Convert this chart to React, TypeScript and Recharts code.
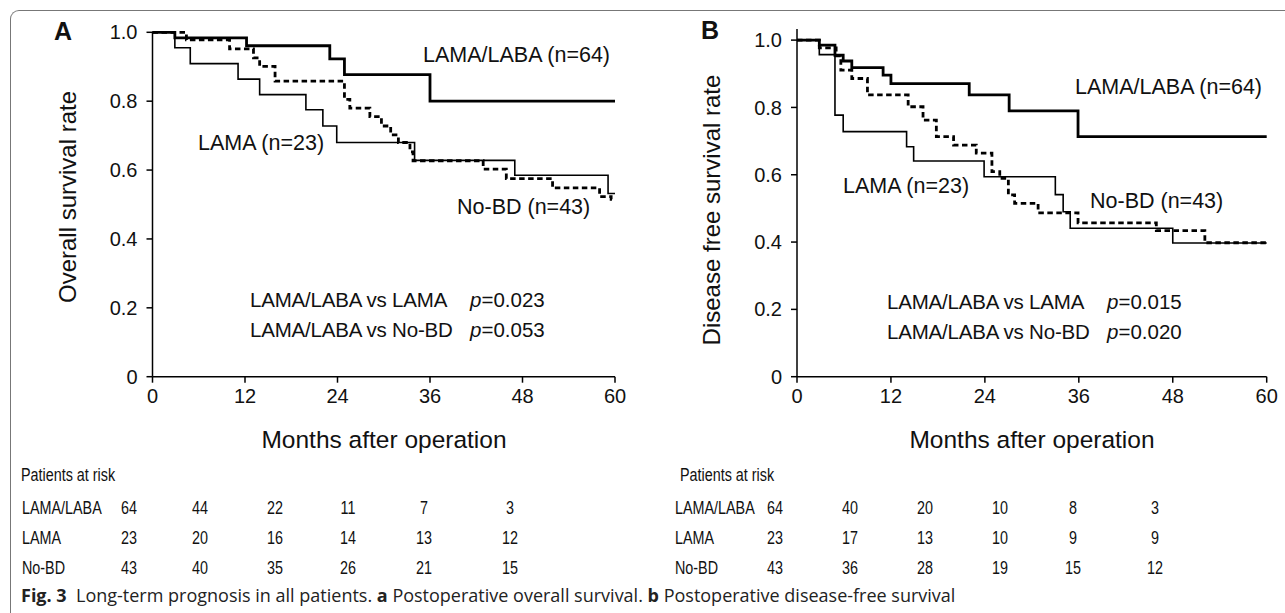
import { LineChart, Line, XAxis, YAxis } from 'recharts';

// survival curves: [month, rate]
const osLamaLaba = [[0, 1], [2.9, 0.984], [12.2, 0.961], [23.0, 0.923], [24.9, 0.877], [36, 0.8], [60, 0.8]];
const osLama = [[0, 1], [2.9, 0.955], [4.9, 0.909], [11.1, 0.864], [13.9, 0.819], [19.9, 0.775], [22.1, 0.728], [23.9, 0.68], [34.0, 0.628], [47.0, 0.585], [59.1, 0.532], [60, 0.532]];
const osNoBd = [[0, 1], [4.4, 0.978], [10.0, 0.952], [13.1, 0.926], [13.9, 0.901], [15.9, 0.858], [24.9, 0.805], [25.6, 0.78], [28.2, 0.755], [29.7, 0.728], [30.9, 0.702], [31.9, 0.68], [33.4, 0.653], [33.8, 0.627], [42.9, 0.603], [45.9, 0.575], [51.9, 0.548], [58.0, 0.523], [59.5, 0.515], [60, 0.515]];

const dfsLamaLaba = [[0, 1], [2.85, 0.985], [4.85, 0.955], [5.9, 0.938], [7.0, 0.918], [11.0, 0.896], [12.0, 0.871], [22.0, 0.837], [27.1, 0.79], [35.9, 0.713], [60, 0.713]];
const dfsLama = [[0, 1], [2.85, 0.957], [4.85, 0.777], [5.9, 0.728], [14.0, 0.683], [14.9, 0.641], [23.9, 0.594], [33.0, 0.541], [34.0, 0.49], [34.9, 0.441], [48.0, 0.397], [60, 0.397]];
const dfsNoBd = [[0, 1], [2.85, 0.977], [5.0, 0.953], [5.6, 0.911], [7.0, 0.886], [9.0, 0.837], [14.2, 0.802], [16.1, 0.762], [17.8, 0.713], [20.0, 0.688], [22.9, 0.664], [24.9, 0.609], [25.9, 0.589], [27.0, 0.54], [27.8, 0.515], [30.8, 0.487], [35.9, 0.457], [45.9, 0.434], [52.1, 0.398], [60, 0.398]];

const monthTicks = [0, 12, 24, 36, 48, 60];
const rateTicks = [0, 0.2, 0.4, 0.6, 0.8, 1.0];

// patients at risk
const groups = ['LAMA/LABA', 'LAMA', 'No-BD'];
const riskOs = [
  [64, 44, 22, 11, 7, 3],
  [23, 20, 16, 14, 13, 12],
  [43, 40, 35, 26, 21, 15],
];
const riskDfs = [
  [64, 40, 20, 10, 8, 3],
  [23, 17, 13, 10, 9, 9],
  [43, 36, 28, 19, 15, 12],
];

const pTextOs = ['0.023', '0.053'];
const pTextDfs = ['0.015', '0.020'];

const FONT = '"Liberation Sans", Arial, Helvetica, sans-serif';

const toRows = (pairs: number[][]) => pairs.map(([t, s]) => ({ t, s }));

const abs = (left: number, top: number, extra: any = {}): any => ({
  position: 'absolute',
  left,
  top,
  transform: 'translateY(-50%)',
  whiteSpace: 'nowrap',
  lineHeight: 1,
  fontFamily: FONT,
  color: '#111',
  ...extra,
});

function KMChart({ lamaLaba, lama, noBd, width, height, margin, yMax }: any) {
  const axisStyle = { stroke: '#000', strokeWidth: 1.5 };
  return (
    <LineChart width={width} height={height} margin={margin}>
      <XAxis
        type="number"
        dataKey="t"
        domain={[0, 60]}
        ticks={monthTicks}
        axisLine={axisStyle}
        tickLine={axisStyle}
        tickSize={6}
        tickMargin={6}
        height={40}
        tick={{ fill: '#111', fontSize: 20, fontFamily: FONT }}
      />
      <YAxis
        type="number"
        domain={[0, yMax]}
        ticks={rateTicks}
        width={60}
        axisLine={axisStyle}
        tickLine={axisStyle}
        tickSize={6}
        tickMargin={9}
        tickFormatter={(v: number) => (v === 0 ? '0' : v.toFixed(1))}
        tick={{ fill: '#111', fontSize: 20, fontFamily: FONT }}
      />
      <Line data={toRows(lamaLaba)} dataKey="s" type="stepAfter" stroke="#000" strokeWidth={2.8} dot={false} activeDot={false} isAnimationActive={false} />
      <Line data={toRows(lama)} dataKey="s" type="stepAfter" stroke="#000" strokeWidth={1.6} dot={false} activeDot={false} isAnimationActive={false} />
      <Line data={toRows(noBd)} dataKey="s" type="stepAfter" stroke="#000" strokeWidth={2.8} strokeDasharray="5.5 3.5" dot={false} activeDot={false} isAnimationActive={false} />
    </LineChart>
  );
}

// narrow-looking table text, like the figure
const tableText = (left: number, top: number, center = false) =>
  abs(left, top, {
    fontSize: 17.5,
    transform: center ? 'translate(-50%, -50%) scaleX(0.82)' : 'translateY(-50%) scaleX(0.82)',
    transformOrigin: center ? '50% 50%' : '0 50%',
  });

function RiskTable({ left, labelX, cols, values }: any) {
  return (
    <>
      <div style={tableText(left, 476)}>Patients at risk</div>
      {groups.map((g, r) => (
        <div key={g}>
          <div style={tableText(labelX, 509 + r * 30)}>{g}</div>
          {values[r].map((v: number, c: number) => (
            <div key={c} style={tableText(cols[c], 509 + r * 30, true)}>{v}</div>
          ))}
        </div>
      ))}
    </>
  );
}

function PText({ left, top, label, p }: any) {
  return (
    <>
      <div style={abs(left, top, { fontSize: 20.5, letterSpacing: -0.2 })}>{label}</div>
      <div style={abs(left + 220, top, { fontSize: 20.5 })}><i>p</i>={p}</div>
    </>
  );
}

export default function App() {
  return (
    <div style={{ position: 'absolute', left: 0, top: 0, width: 1285, height: 613, background: '#fff', overflow: 'hidden' }}>
      {/* figure frame */}
      <div style={{ position: 'absolute', left: 10, top: 10, width: 1300, height: 640, borderLeft: '1.5px solid #777', borderTop: '1.5px solid #777', borderTopLeftRadius: 9 }} />

      {/* panel A */}
      <div style={{ position: 'absolute', left: 0, top: 0 }}>
        <KMChart lamaLaba={osLamaLaba} lama={osLama} noBd={osNoBd} width={640} height={430}
          margin={{ top: 32.3, right: 25, bottom: 13.3, left: 92.5 }} yMax={1} />
      </div>
      <div style={abs(54, 31, { fontSize: 25, fontWeight: 'bold' })}>A</div>
      <div style={abs(68, 197, { fontSize: 24, transform: 'translate(-50%, -50%) rotate(-90deg)' })}>Overall survival rate</div>
      <div style={abs(423, 56, { fontSize: 21.5 })}>LAMA/LABA (n=64)</div>
      <div style={abs(198, 144, { fontSize: 21.5 })}>LAMA (n=23)</div>
      <div style={abs(457, 208, { fontSize: 21.5 })}>No-BD (n=43)</div>
      <PText left={250} top={300} label="LAMA/LABA vs LAMA" p={pTextOs[0]} />
      <PText left={250} top={330} label="LAMA/LABA vs No-BD" p={pTextOs[1]} />
      <div style={abs(384, 440, { fontSize: 24.5, transform: 'translate(-50%, -50%)' })}>Months after operation</div>
      <RiskTable left={21} labelX={22} cols={[129, 200, 275, 348, 424, 510]} values={riskOs} />

      {/* panel B */}
      <div style={{ position: 'absolute', left: 640, top: 0 }}>
        <KMChart lamaLaba={dfsLamaLaba} lama={dfsLama} noBd={dfsNoBd} width={645} height={430}
          margin={{ top: 29, right: 18.3, bottom: 13.3, left: 97 }} yMax={1.033} />
      </div>
      <div style={abs(701, 30, { fontSize: 25, fontWeight: 'bold' })}>B</div>
      <div style={abs(712, 210, { fontSize: 24, transform: 'translate(-50%, -50%) rotate(-90deg)' })}>Disease free survival rate</div>
      <div style={abs(1075, 88, { fontSize: 21.5 })}>LAMA/LABA (n=64)</div>
      <div style={abs(843, 187, { fontSize: 21.5 })}>LAMA (n=23)</div>
      <div style={abs(1090, 202, { fontSize: 21.5 })}>No-BD (n=43)</div>
      <PText left={887} top={302} label="LAMA/LABA vs LAMA" p={pTextDfs[0]} />
      <PText left={887} top={332} label="LAMA/LABA vs No-BD" p={pTextDfs[1]} />
      <div style={abs(1032, 440, { fontSize: 24.5, transform: 'translate(-50%, -50%)' })}>Months after operation</div>
      <RiskTable left={680} labelX={675} cols={[775, 850, 925, 1000, 1073, 1155]} values={riskDfs} />

      {/* caption */}
      <div style={abs(21, 595, { fontSize: 18, fontFamily: '"Open Sans", "Noto Sans", sans-serif', color: '#222' })}>
        <b>Fig. 3</b>&nbsp;&nbsp;Long-term prognosis in all patients. <b>a</b> Postoperative overall survival. <b>b</b> Postoperative disease-free survival
      </div>
    </div>
  );
}
